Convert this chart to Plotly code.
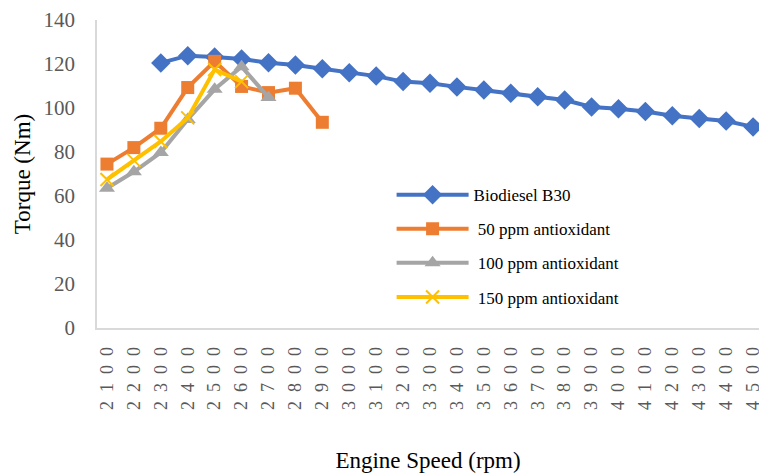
import plotly.graph_objects as go

speeds = [2100, 2200, 2300, 2400, 2500, 2600, 2700, 2800, 2900, 3000, 3100, 3200, 3300,
          3400, 3500, 3600, 3700, 3800, 3900, 4000, 4100, 4200, 4300, 4400, 4500]

b30_x = [2300, 2400, 2500, 2600, 2700, 2800, 2900, 3000, 3100, 3200, 3300, 3400, 3500,
         3600, 3700, 3800, 3900, 4000, 4100, 4200, 4300, 4400, 4500]
b30_y = [120.5, 123.8, 123.2, 122.3, 120.6, 119.5, 117.8, 116.0, 114.5, 112.0, 111.2, 109.6,
         108.2, 106.7, 105.1, 103.6, 100.5, 99.7, 98.4, 96.5, 95.2, 94.1, 91.4]

p50_x = [2100, 2200, 2300, 2400, 2500, 2600, 2700, 2800, 2900]
p50_y = [74.5, 82.0, 90.8, 109.3, 121.2, 109.8, 107.0, 109.0, 93.5]

p100_x = [2100, 2200, 2300, 2400, 2500, 2600, 2700]
p100_y = [63.5, 71.0, 79.8, 94.8, 108.5, 118.8, 104.8]

p150_x = [2100, 2200, 2300, 2400, 2500, 2600]
p150_y = [67.5, 76.2, 84.8, 95.5, 117.5, 112.0]

names = ["Biodiesel B30", " 50 ppm antioxidant", " 100 ppm antioxidant", " 150 ppm antioxidant"]
tick_text = ["\u2002".join(str(s)) for s in speeds]

fig = go.Figure()
fig.add_trace(go.Scatter(x=b30_x, y=b30_y, mode="lines+markers", name=names[0],
                         legendgroup="a",
                         line=dict(color="#4472C4", width=4),
                         marker=dict(symbol="diamond", size=15, color="#4472C4")))
fig.add_trace(go.Scatter(x=p50_x, y=p50_y, mode="lines+markers", name=names[1],
                         legendgroup="b",
                         line=dict(color="#ED7D31", width=4),
                         marker=dict(symbol="square", size=13, color="#ED7D31")))
fig.add_trace(go.Scatter(x=p100_x, y=p100_y, mode="lines+markers", name=names[2],
                         legendgroup="c",
                         line=dict(color="#A5A5A5", width=4),
                         marker=dict(symbol="triangle-up", size=14, color="#A5A5A5")))
fig.add_trace(go.Scatter(x=p150_x, y=p150_y, mode="lines+markers", name=names[3],
                         legendgroup="d",
                         line=dict(color="#FFC000", width=4),
                         marker=dict(symbol="x-thin", size=13, color="#FFC000",
                                     line=dict(color="#FFC000", width=2))))

font_family = "Liberation Serif, Times New Roman, serif"
fig.update_layout(
    width=759, height=473,
    margin=dict(l=97, r=0, t=20, b=145, autoexpand=False),
    paper_bgcolor="white", plot_bgcolor="white",
    font=dict(family=font_family, color="#404040"),
    showlegend=True,
    legend=dict(x=0.445, y=0.49, xanchor="left", yanchor="top",
                font=dict(size=17, color="#000000", family=font_family),
                bgcolor="rgba(0,0,0,0)", tracegroupgap=9, itemwidth=72),
    xaxis=dict(range=[2100 - 37, 4500 + 22], tickmode="array", tickvals=speeds,
               ticktext=tick_text, tickangle=-90, showgrid=False, zeroline=False,
               automargin=False, ticklabeloverflow="allow",
               showline=True, linecolor="#D9D9D9", linewidth=1.5, ticks="",
               tickfont=dict(size=18, color="#595959"), ticklabelstandoff=10,
               title=dict(text="Engine Speed (rpm)", font=dict(size=23, color="#000000"),
                          standoff=46)),
    yaxis=dict(range=[0, 140], tickmode="array", tickvals=[0, 20, 40, 60, 80, 100, 120, 140],
               showgrid=False, zeroline=False, showline=True, linecolor="#D9D9D9",
               automargin=False,
               linewidth=1.5, ticks="", tickfont=dict(size=21, color="#595959"),
               ticklabelstandoff=16,
               title=dict(text="Torque (Nm)", font=dict(size=23, color="#000000"),
                          standoff=6)),
)

fig.write_html("out.html", config={"displayModeBar": False},
               post_script="document.body.style.margin='0';document.body.style.padding='0';")
